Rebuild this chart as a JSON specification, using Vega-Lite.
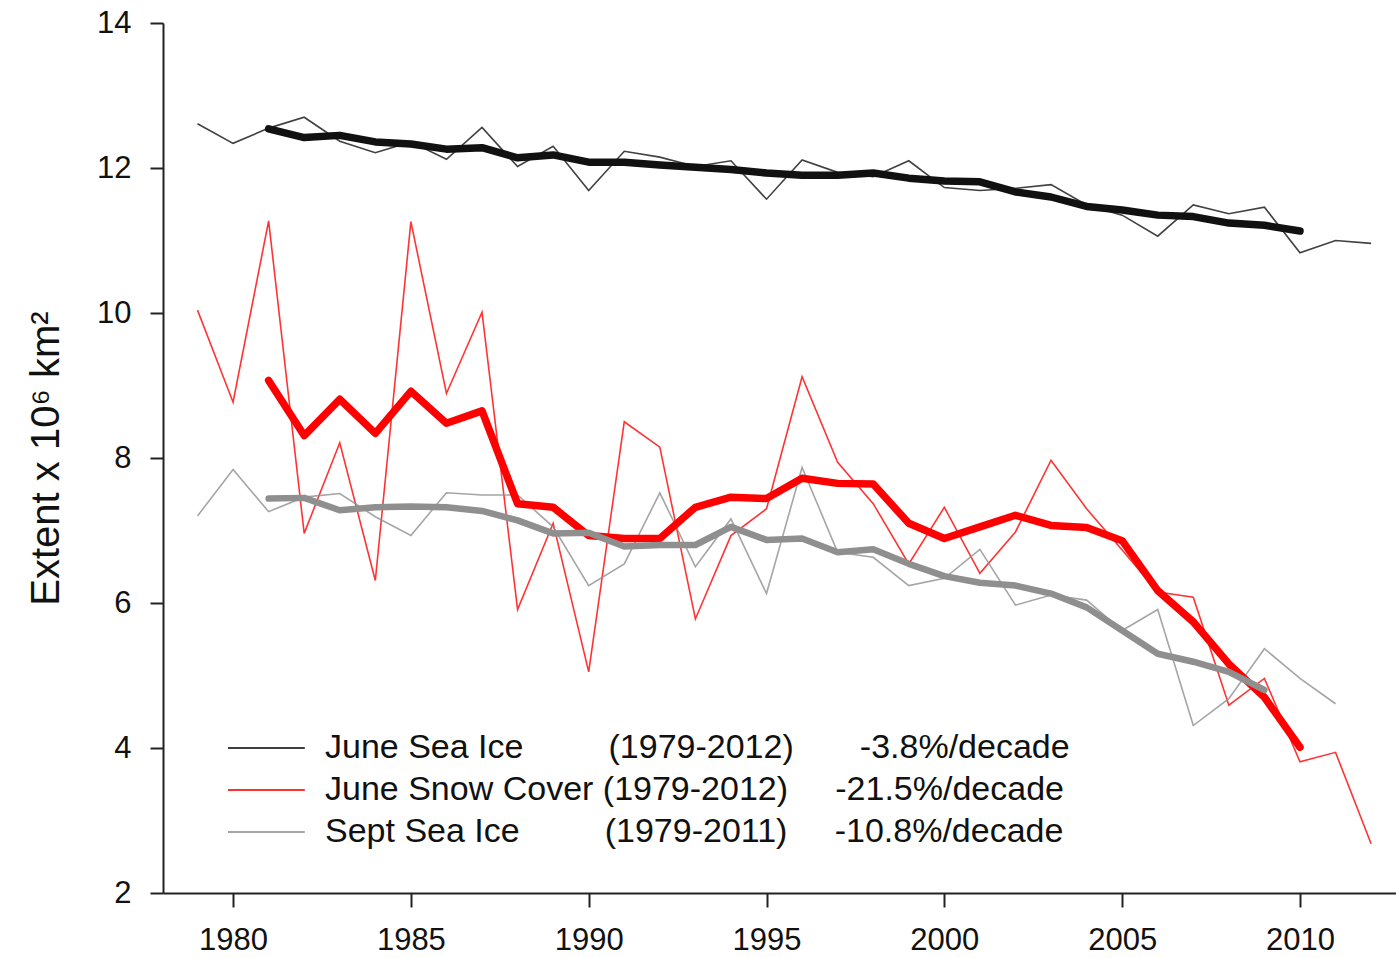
{
  "$schema": "https://vega.github.io/schema/vega-lite/v6.json",
  "width": 1233,
  "height": 870,
  "autosize": {"type": "none"},
  "padding": {"left": 163, "top": 23, "right": 0, "bottom": 65},
  "background": "white",
  "config": {
    "font": "Liberation Sans",
    "view": {"stroke": null},
    "axis": {
      "domainColor": "#222222",
      "domainWidth": 2,
      "tickColor": "#222222",
      "tickWidth": 2,
      "grid": false,
      "labelFont": "Liberation Sans",
      "labelFontSize": 31,
      "labelColor": "#111111",
      "titleFont": "Liberation Sans",
      "titleFontWeight": "normal",
      "titleColor": "#111111"
    },
    "legend": {
      "orient": "none",
      "legendX": 86.4,
      "legendY": 708,
      "direction": "vertical",
      "padding": 0,
      "symbolType": "M-3.2,0L3.2,0",
      "symbolSize": 576,
      "symbolStrokeWidth": 2,
      "labelFont": "Liberation Sans",
      "labelFontSize": 34,
      "labelColor": "#111111",
      "labelOffset": 41.6,
      "labelLimit": 0,
      "rowPadding": 8
    }
  },
  "datasets": {
    "annual": [
      {"year": 1979, "series": "June Sea Ice", "extent": 12.61},
      {"year": 1980, "series": "June Sea Ice", "extent": 12.34},
      {"year": 1981, "series": "June Sea Ice", "extent": 12.55},
      {"year": 1982, "series": "June Sea Ice", "extent": 12.70},
      {"year": 1983, "series": "June Sea Ice", "extent": 12.37},
      {"year": 1984, "series": "June Sea Ice", "extent": 12.21},
      {"year": 1985, "series": "June Sea Ice", "extent": 12.36},
      {"year": 1986, "series": "June Sea Ice", "extent": 12.12},
      {"year": 1987, "series": "June Sea Ice", "extent": 12.56},
      {"year": 1988, "series": "June Sea Ice", "extent": 12.02},
      {"year": 1989, "series": "June Sea Ice", "extent": 12.30},
      {"year": 1990, "series": "June Sea Ice", "extent": 11.69},
      {"year": 1991, "series": "June Sea Ice", "extent": 12.23},
      {"year": 1992, "series": "June Sea Ice", "extent": 12.15},
      {"year": 1993, "series": "June Sea Ice", "extent": 12.02},
      {"year": 1994, "series": "June Sea Ice", "extent": 12.10},
      {"year": 1995, "series": "June Sea Ice", "extent": 11.57},
      {"year": 1996, "series": "June Sea Ice", "extent": 12.11},
      {"year": 1997, "series": "June Sea Ice", "extent": 11.94},
      {"year": 1998, "series": "June Sea Ice", "extent": 11.88},
      {"year": 1999, "series": "June Sea Ice", "extent": 12.10},
      {"year": 2000, "series": "June Sea Ice", "extent": 11.73},
      {"year": 2001, "series": "June Sea Ice", "extent": 11.69},
      {"year": 2002, "series": "June Sea Ice", "extent": 11.72},
      {"year": 2003, "series": "June Sea Ice", "extent": 11.77},
      {"year": 2004, "series": "June Sea Ice", "extent": 11.49},
      {"year": 2005, "series": "June Sea Ice", "extent": 11.35},
      {"year": 2006, "series": "June Sea Ice", "extent": 11.06},
      {"year": 2007, "series": "June Sea Ice", "extent": 11.49},
      {"year": 2008, "series": "June Sea Ice", "extent": 11.37},
      {"year": 2009, "series": "June Sea Ice", "extent": 11.46},
      {"year": 2010, "series": "June Sea Ice", "extent": 10.83},
      {"year": 2011, "series": "June Sea Ice", "extent": 11.00},
      {"year": 2012, "series": "June Sea Ice", "extent": 10.96},
      {"year": 1979, "series": "June Snow Cover", "extent": 10.04},
      {"year": 1980, "series": "June Snow Cover", "extent": 8.77},
      {"year": 1981, "series": "June Snow Cover", "extent": 11.27},
      {"year": 1982, "series": "June Snow Cover", "extent": 6.96},
      {"year": 1983, "series": "June Snow Cover", "extent": 8.21},
      {"year": 1984, "series": "June Snow Cover", "extent": 6.31},
      {"year": 1985, "series": "June Snow Cover", "extent": 11.26},
      {"year": 1986, "series": "June Snow Cover", "extent": 8.89},
      {"year": 1987, "series": "June Snow Cover", "extent": 10.01},
      {"year": 1988, "series": "June Snow Cover", "extent": 5.91},
      {"year": 1989, "series": "June Snow Cover", "extent": 7.10},
      {"year": 1990, "series": "June Snow Cover", "extent": 5.05},
      {"year": 1991, "series": "June Snow Cover", "extent": 8.50},
      {"year": 1992, "series": "June Snow Cover", "extent": 8.15},
      {"year": 1993, "series": "June Snow Cover", "extent": 5.78},
      {"year": 1994, "series": "June Snow Cover", "extent": 6.93},
      {"year": 1995, "series": "June Snow Cover", "extent": 7.30},
      {"year": 1996, "series": "June Snow Cover", "extent": 9.12},
      {"year": 1997, "series": "June Snow Cover", "extent": 7.94},
      {"year": 1998, "series": "June Snow Cover", "extent": 7.37},
      {"year": 1999, "series": "June Snow Cover", "extent": 6.54},
      {"year": 2000, "series": "June Snow Cover", "extent": 7.32},
      {"year": 2001, "series": "June Snow Cover", "extent": 6.41},
      {"year": 2002, "series": "June Snow Cover", "extent": 6.98},
      {"year": 2003, "series": "June Snow Cover", "extent": 7.97},
      {"year": 2004, "series": "June Snow Cover", "extent": 7.30},
      {"year": 2005, "series": "June Snow Cover", "extent": 6.73},
      {"year": 2006, "series": "June Snow Cover", "extent": 6.15},
      {"year": 2007, "series": "June Snow Cover", "extent": 6.08},
      {"year": 2008, "series": "June Snow Cover", "extent": 4.59},
      {"year": 2009, "series": "June Snow Cover", "extent": 4.96},
      {"year": 2010, "series": "June Snow Cover", "extent": 3.81},
      {"year": 2011, "series": "June Snow Cover", "extent": 3.94},
      {"year": 2012, "series": "June Snow Cover", "extent": 2.68},
      {"year": 1979, "series": "Sept Sea Ice", "extent": 7.20},
      {"year": 1980, "series": "Sept Sea Ice", "extent": 7.84},
      {"year": 1981, "series": "Sept Sea Ice", "extent": 7.26},
      {"year": 1982, "series": "Sept Sea Ice", "extent": 7.46},
      {"year": 1983, "series": "Sept Sea Ice", "extent": 7.51},
      {"year": 1984, "series": "Sept Sea Ice", "extent": 7.19},
      {"year": 1985, "series": "Sept Sea Ice", "extent": 6.93},
      {"year": 1986, "series": "Sept Sea Ice", "extent": 7.52},
      {"year": 1987, "series": "Sept Sea Ice", "extent": 7.49},
      {"year": 1988, "series": "Sept Sea Ice", "extent": 7.49},
      {"year": 1989, "series": "Sept Sea Ice", "extent": 7.05},
      {"year": 1990, "series": "Sept Sea Ice", "extent": 6.24},
      {"year": 1991, "series": "Sept Sea Ice", "extent": 6.54},
      {"year": 1992, "series": "Sept Sea Ice", "extent": 7.52},
      {"year": 1993, "series": "Sept Sea Ice", "extent": 6.50},
      {"year": 1994, "series": "Sept Sea Ice", "extent": 7.16},
      {"year": 1995, "series": "Sept Sea Ice", "extent": 6.13},
      {"year": 1996, "series": "Sept Sea Ice", "extent": 7.87},
      {"year": 1997, "series": "Sept Sea Ice", "extent": 6.70},
      {"year": 1998, "series": "Sept Sea Ice", "extent": 6.63},
      {"year": 1999, "series": "Sept Sea Ice", "extent": 6.24},
      {"year": 2000, "series": "Sept Sea Ice", "extent": 6.34},
      {"year": 2001, "series": "Sept Sea Ice", "extent": 6.74},
      {"year": 2002, "series": "Sept Sea Ice", "extent": 5.97},
      {"year": 2003, "series": "Sept Sea Ice", "extent": 6.11},
      {"year": 2004, "series": "Sept Sea Ice", "extent": 6.04},
      {"year": 2005, "series": "Sept Sea Ice", "extent": 5.62},
      {"year": 2006, "series": "Sept Sea Ice", "extent": 5.91},
      {"year": 2007, "series": "Sept Sea Ice", "extent": 4.31},
      {"year": 2008, "series": "Sept Sea Ice", "extent": 4.68},
      {"year": 2009, "series": "Sept Sea Ice", "extent": 5.37},
      {"year": 2010, "series": "Sept Sea Ice", "extent": 4.96},
      {"year": 2011, "series": "Sept Sea Ice", "extent": 4.61}
    ],
    "running_mean": [
      {"year": 1981, "series": "June Sea Ice", "extent": 12.54},
      {"year": 1982, "series": "June Sea Ice", "extent": 12.42},
      {"year": 1983, "series": "June Sea Ice", "extent": 12.45},
      {"year": 1984, "series": "June Sea Ice", "extent": 12.36},
      {"year": 1985, "series": "June Sea Ice", "extent": 12.33},
      {"year": 1986, "series": "June Sea Ice", "extent": 12.26},
      {"year": 1987, "series": "June Sea Ice", "extent": 12.28},
      {"year": 1988, "series": "June Sea Ice", "extent": 12.14},
      {"year": 1989, "series": "June Sea Ice", "extent": 12.18},
      {"year": 1990, "series": "June Sea Ice", "extent": 12.08},
      {"year": 1991, "series": "June Sea Ice", "extent": 12.08},
      {"year": 1992, "series": "June Sea Ice", "extent": 12.04},
      {"year": 1993, "series": "June Sea Ice", "extent": 12.01},
      {"year": 1994, "series": "June Sea Ice", "extent": 11.98},
      {"year": 1995, "series": "June Sea Ice", "extent": 11.93},
      {"year": 1996, "series": "June Sea Ice", "extent": 11.90},
      {"year": 1997, "series": "June Sea Ice", "extent": 11.90},
      {"year": 1998, "series": "June Sea Ice", "extent": 11.93},
      {"year": 1999, "series": "June Sea Ice", "extent": 11.86},
      {"year": 2000, "series": "June Sea Ice", "extent": 11.82},
      {"year": 2001, "series": "June Sea Ice", "extent": 11.81},
      {"year": 2002, "series": "June Sea Ice", "extent": 11.67},
      {"year": 2003, "series": "June Sea Ice", "extent": 11.60},
      {"year": 2004, "series": "June Sea Ice", "extent": 11.47},
      {"year": 2005, "series": "June Sea Ice", "extent": 11.42},
      {"year": 2006, "series": "June Sea Ice", "extent": 11.35},
      {"year": 2007, "series": "June Sea Ice", "extent": 11.33},
      {"year": 2008, "series": "June Sea Ice", "extent": 11.24},
      {"year": 2009, "series": "June Sea Ice", "extent": 11.21},
      {"year": 2010, "series": "June Sea Ice", "extent": 11.13},
      {"year": 1981, "series": "June Snow Cover", "extent": 9.07},
      {"year": 1982, "series": "June Snow Cover", "extent": 8.31},
      {"year": 1983, "series": "June Snow Cover", "extent": 8.81},
      {"year": 1984, "series": "June Snow Cover", "extent": 8.34},
      {"year": 1985, "series": "June Snow Cover", "extent": 8.92},
      {"year": 1986, "series": "June Snow Cover", "extent": 8.48},
      {"year": 1987, "series": "June Snow Cover", "extent": 8.65},
      {"year": 1988, "series": "June Snow Cover", "extent": 7.37},
      {"year": 1989, "series": "June Snow Cover", "extent": 7.32},
      {"year": 1990, "series": "June Snow Cover", "extent": 6.93},
      {"year": 1991, "series": "June Snow Cover", "extent": 6.89},
      {"year": 1992, "series": "June Snow Cover", "extent": 6.89},
      {"year": 1993, "series": "June Snow Cover", "extent": 7.32},
      {"year": 1994, "series": "June Snow Cover", "extent": 7.46},
      {"year": 1995, "series": "June Snow Cover", "extent": 7.44},
      {"year": 1996, "series": "June Snow Cover", "extent": 7.72},
      {"year": 1997, "series": "June Snow Cover", "extent": 7.65},
      {"year": 1998, "series": "June Snow Cover", "extent": 7.64},
      {"year": 1999, "series": "June Snow Cover", "extent": 7.10},
      {"year": 2000, "series": "June Snow Cover", "extent": 6.89},
      {"year": 2001, "series": "June Snow Cover", "extent": 7.05},
      {"year": 2002, "series": "June Snow Cover", "extent": 7.21},
      {"year": 2003, "series": "June Snow Cover", "extent": 7.07},
      {"year": 2004, "series": "June Snow Cover", "extent": 7.04},
      {"year": 2005, "series": "June Snow Cover", "extent": 6.86},
      {"year": 2006, "series": "June Snow Cover", "extent": 6.17},
      {"year": 2007, "series": "June Snow Cover", "extent": 5.74},
      {"year": 2008, "series": "June Snow Cover", "extent": 5.16},
      {"year": 2009, "series": "June Snow Cover", "extent": 4.70},
      {"year": 2010, "series": "June Snow Cover", "extent": 4.01},
      {"year": 1981, "series": "Sept Sea Ice", "extent": 7.44},
      {"year": 1982, "series": "Sept Sea Ice", "extent": 7.45},
      {"year": 1983, "series": "Sept Sea Ice", "extent": 7.28},
      {"year": 1984, "series": "Sept Sea Ice", "extent": 7.32},
      {"year": 1985, "series": "Sept Sea Ice", "extent": 7.33},
      {"year": 1986, "series": "Sept Sea Ice", "extent": 7.32},
      {"year": 1987, "series": "Sept Sea Ice", "extent": 7.27},
      {"year": 1988, "series": "Sept Sea Ice", "extent": 7.14},
      {"year": 1989, "series": "Sept Sea Ice", "extent": 6.96},
      {"year": 1990, "series": "Sept Sea Ice", "extent": 6.97},
      {"year": 1991, "series": "Sept Sea Ice", "extent": 6.78},
      {"year": 1992, "series": "Sept Sea Ice", "extent": 6.80},
      {"year": 1993, "series": "Sept Sea Ice", "extent": 6.80},
      {"year": 1994, "series": "Sept Sea Ice", "extent": 7.05},
      {"year": 1995, "series": "Sept Sea Ice", "extent": 6.87},
      {"year": 1996, "series": "Sept Sea Ice", "extent": 6.89},
      {"year": 1997, "series": "Sept Sea Ice", "extent": 6.70},
      {"year": 1998, "series": "Sept Sea Ice", "extent": 6.74},
      {"year": 1999, "series": "Sept Sea Ice", "extent": 6.54},
      {"year": 2000, "series": "Sept Sea Ice", "extent": 6.37},
      {"year": 2001, "series": "Sept Sea Ice", "extent": 6.28},
      {"year": 2002, "series": "Sept Sea Ice", "extent": 6.24},
      {"year": 2003, "series": "Sept Sea Ice", "extent": 6.13},
      {"year": 2004, "series": "Sept Sea Ice", "extent": 5.94},
      {"year": 2005, "series": "Sept Sea Ice", "extent": 5.62},
      {"year": 2006, "series": "Sept Sea Ice", "extent": 5.30},
      {"year": 2007, "series": "Sept Sea Ice", "extent": 5.19},
      {"year": 2008, "series": "Sept Sea Ice", "extent": 5.05},
      {"year": 2009, "series": "Sept Sea Ice", "extent": 4.80}
    ]
  },
  "encoding": {
    "x": {
      "field": "year",
      "type": "quantitative",
      "scale": {"domain": [1978.03, 2012.7], "nice": false, "zero": false},
      "axis": {
        "title": null,
        "values": [1980, 1985, 1990, 1995, 2000, 2005, 2010],
        "format": "d",
        "tickSize": 14,
        "labelPadding": 18
      }
    },
    "y": {
      "field": "extent",
      "type": "quantitative",
      "scale": {"domain": [2, 14], "nice": false, "zero": false},
      "axis": {
        "title": "Extent x 10⁶ km²",
        "titleFontSize": 40,
        "titlePadding": 30,
        "values": [2, 4, 6, 8, 10, 12, 14],
        "tickSize": 13,
        "labelPadding": 19
      }
    },
    "color": {
      "field": "series",
      "type": "nominal",
      "scale": {
        "domain": ["June Sea Ice", "June Snow Cover", "Sept Sea Ice"],
        "range": ["#111111", "#ff0000", "#8f8f8f"]
      },
      "legend": {
        "title": null,
        "labelExpr": "datum.label == 'June Sea Ice' ? 'June Sea Ice\u00a0\u00a0\u00a0\u00a0\u00a0\u00a0\u00a0\u00a0\u00a0(1979-2012)\u00a0\u00a0\u00a0\u00a0\u00a0\u00a0\u00a0-3.8%/decade' : datum.label == 'June Snow Cover' ? 'June Snow Cover\u00a0(1979-2012)\u00a0\u00a0\u00a0\u00a0\u00a0-21.5%/decade' : 'Sept Sea Ice\u00a0\u00a0\u00a0\u00a0\u00a0\u00a0\u00a0\u00a0\u00a0(1979-2011)\u00a0\u00a0\u00a0\u00a0\u00a0-10.8%/decade'"
      }
    }
  },
  "layer": [
    {
      "data": {"name": "annual"},
      "mark": {"type": "line", "strokeWidth": 1.6, "opacity": 0.8}
    },
    {
      "data": {"name": "running_mean"},
      "transform": [{"filter": "datum.series != 'Sept Sea Ice'"}],
      "mark": {"type": "line", "strokeWidth": 7.5, "strokeCap": "round", "strokeJoin": "round"}
    },
    {
      "data": {"name": "running_mean"},
      "transform": [{"filter": "datum.series == 'Sept Sea Ice'"}],
      "mark": {"type": "line", "strokeWidth": 6.5, "strokeCap": "round", "strokeJoin": "round", "color": "#999999"}
    },
    {
      "data": {"values": [{}]},
      "mark": {"type": "rule", "color": "#222222", "strokeWidth": 2},
      "encoding": {
        "x": null,
        "color": null,
        "y": {"datum": 14}
      }
    }
  ]
}
